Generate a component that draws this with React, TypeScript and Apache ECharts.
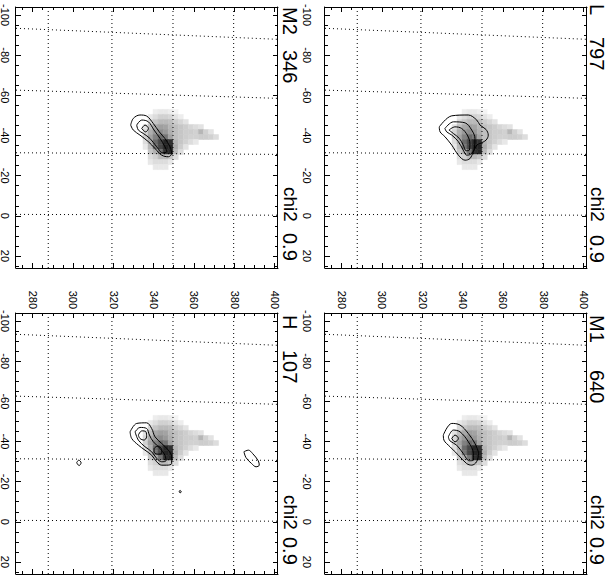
import React, { useEffect, useRef } from 'react';
import * as echarts from 'echarts';

// ---------- data ----------
const panelNames = ['L', 'M1', 'M2', 'H'];
const panelCounts = ['797', '640', '346', '107'];
const chiLabel = 'chi2';
const chiValues = ['0.9', '0.9', '0.9', '0.9'];

const xMin = -104;
const xMax = 26;
const yMin = 271.5;
const yMax = 401.5;
const xTickValues = [-100, -80, -60, -40, -20, 0, 20];
const yTickValues = [280, 300, 320, 340, 360, 380, 400];
const xMinorValues = [-100, -95, -90, -85, -80, -75, -70, -65, -60, -55, -50, -45, -40, -35, -30, -25, -20, -15, -10, -5, 0, 5, 10, 15, 20, 25];
const yMinorValues = [275, 280, 285, 290, 295, 300, 305, 310, 315, 320, 325, 330, 335, 340, 345, 350, 355, 360, 365, 370, 375, 380, 385, 390, 395, 400];

// overlay coordinate grid (dotted)
const overlayConstY = [287.5, 319.1, 349.4, 379.5];
const overlayTiltX = [
  [-93.4, -87.9],
  [-62.6, -58.5],
  [-31.4, -30.6],
  [-0.7, -0.3],
];

// grey-scale image (rows along x, columns along y)
const heatXEdges = [-53, -50.5, -48, -45.5, -43, -40.5, -38, -35.5, -33, -30.5, -28, -25.5, -23];
const heatYEdges = [334.5, 337, 339.5, 342, 344.5, 347, 349.5, 352, 354.5, 357, 359.5, 362, 364.5, 367, 369.5, 372];
const heatRows = [
  [0, 0, 0.08, 0.1, 0.1, 0.08, 0.05, 0, 0, 0, 0, 0, 0, 0, 0],
  [0, 0.1, 0.15, 0.2, 0.2, 0.18, 0.12, 0.08, 0, 0, 0, 0, 0, 0, 0],
  [0, 0.18, 0.25, 0.3, 0.3, 0.28, 0.22, 0.18, 0.12, 0, 0, 0, 0, 0, 0],
  [0.12, 0.28, 0.38, 0.42, 0.4, 0.32, 0.28, 0.25, 0.22, 0.18, 0.15, 0.12, 0, 0, 0],
  [0.18, 0.35, 0.45, 0.5, 0.45, 0.35, 0.28, 0.25, 0.22, 0.22, 0.2, 0.32, 0.2, 0.12, 0],
  [0.2, 0.4, 0.55, 0.65, 0.6, 0.4, 0.28, 0.25, 0.22, 0.2, 0.2, 0.22, 0.22, 0.2, 0.15],
  [0.15, 0.35, 0.65, 0.8, 0.95, 0.9, 0.32, 0.25, 0.2, 0.15, 0.1, 0, 0, 0, 0],
  [0.1, 0.3, 0.6, 0.8, 0.95, 0.95, 0.35, 0.22, 0.12, 0, 0, 0, 0, 0, 0],
  [0, 0.25, 0.35, 0.6, 0.9, 0.95, 0.3, 0.15, 0, 0, 0, 0, 0, 0, 0],
  [0, 0.15, 0.2, 0.3, 0.3, 0.25, 0.15, 0, 0, 0, 0, 0, 0, 0, 0],
  [0, 0.1, 0.15, 0.15, 0.15, 0.1, 0, 0, 0, 0, 0, 0, 0, 0, 0],
  [0, 0, 0.1, 0.1, 0.1, 0, 0, 0, 0, 0, 0, 0, 0, 0, 0],
];

// contours, [x, y]
const contoursL = [
  [[-44.3, 328.2], [-49.8, 334.4], [-50.2, 342.6], [-47.7, 346.8], [-45.2, 348.4], [-43.0, 351.4], [-40.2, 352.5], [-37.7, 351.4], [-36.0, 348.4], [-35.2, 346.8], [-31.9, 345.1], [-28.5, 343.4], [-27.7, 341.0], [-30.2, 337.7], [-35.2, 334.4], [-39.4, 331.0], [-41.8, 328.6]],
  [[-43.5, 331.0], [-46.8, 335.2], [-46.3, 341.0], [-42.7, 344.3], [-38.5, 345.9], [-33.5, 345.6], [-30.7, 343.8], [-30.2, 341.8], [-32.7, 340.1], [-36.9, 337.7], [-40.2, 334.4], [-41.8, 331.9]],
  [[-42.7, 333.0], [-44.3, 336.0], [-43.5, 339.3], [-40.2, 342.1], [-36.0, 343.4], [-32.7, 343.1], [-32.4, 341.5], [-35.2, 340.1], [-38.5, 338.2], [-41.0, 335.2]],
];
const contoursM1 = [
  [[-43.2, 330.2], [-49.0, 334.4], [-48.2, 338.5], [-44.0, 342.6], [-39.0, 345.9], [-34.0, 347.6], [-29.9, 346.7], [-28.2, 344.3], [-29.0, 341.8], [-33.2, 337.7], [-37.4, 333.5], [-40.7, 330.5]],
  [[-42.3, 332.7], [-45.7, 335.2], [-44.8, 338.5], [-39.9, 342.6], [-34.0, 345.1], [-30.7, 345.1], [-30.4, 343.1], [-34.0, 340.1], [-38.2, 336.8], [-40.3, 333.5]],
  [[-41.5, 334.4], [-43.2, 336.0], [-41.5, 337.7], [-39.8, 336.0]],
];
const contoursM2 = [
  [[-45.2, 328.4], [-48.5, 329.7], [-50.2, 333.0], [-49.7, 336.3], [-46.0, 339.6], [-41.8, 342.6], [-38.5, 345.4], [-34.4, 347.9], [-31.0, 348.7], [-29.4, 347.1], [-30.2, 343.8], [-33.5, 340.5], [-36.9, 337.2], [-40.2, 333.0], [-42.7, 329.7]],
  [[-45.2, 331.4], [-47.7, 333.9], [-46.8, 337.2], [-42.7, 340.0], [-38.5, 343.0], [-34.4, 345.4], [-31.9, 346.3], [-31.4, 344.3], [-34.4, 341.3], [-38.5, 338.0], [-41.0, 334.7], [-42.7, 332.2]],
  [[-43.5, 333.9], [-45.2, 335.5], [-43.5, 337.2], [-41.8, 335.8]],
];
const contoursH = [
  [[-44.8, 328.1], [-49.0, 331.4], [-49.3, 336.3], [-46.5, 338.8], [-42.3, 340.5], [-39.0, 343.8], [-35.7, 347.1], [-32.4, 348.7], [-29.0, 348.7], [-28.2, 346.3], [-28.2, 343.8], [-29.9, 341.3], [-33.2, 338.8], [-35.7, 335.5], [-38.2, 332.2], [-41.5, 328.9]],
  [[-44.8, 330.6], [-47.0, 333.0], [-46.5, 336.3], [-43.2, 337.7], [-39.9, 339.6], [-36.5, 343.0], [-33.2, 345.4], [-30.4, 345.9], [-29.9, 343.8], [-31.6, 341.3], [-34.9, 338.8], [-37.4, 335.5], [-40.7, 332.2]],
  [[-43.2, 332.2], [-45.3, 333.9], [-44.8, 336.0], [-42.3, 336.3], [-40.7, 335.0], [-41.5, 333.0]],
  [[-36.5, 340.0], [-37.7, 341.6], [-36.0, 343.8], [-34.0, 343.8], [-33.7, 341.6], [-34.9, 340.0]],
  [[-34.9, 384.6], [-35.7, 386.8], [-34.0, 388.9], [-30.4, 391.7], [-28.2, 392.2], [-27.4, 390.6], [-29.0, 388.4], [-32.0, 385.6]],
  [[-29.4, 301.6], [-30.7, 302.6], [-29.4, 303.8], [-28.0, 302.8]],
  [[-15.25, 352.4], [-15.6, 353.0], [-14.9, 353.5], [-14.4, 352.9]],
];
const panelContours = [contoursL, contoursM1, contoursM2, contoursH];

// ---------- layout (inner landscape frame, rotated 90deg on page) ----------
const FONT = "'Liberation Sans', Arial, Helvetica, sans-serif";
const gridLayout = [
  { left: 7, top: 26, xLabelMargin: 13, yLabels: false },
  { left: 313, top: 26, xLabelMargin: 13, yLabels: true },
  { left: 7, top: 335, xLabelMargin: 6, yLabels: false },
  { left: 313, top: 335, xLabelMargin: 6, yLabels: true },
];
const GRID_W = 261;
const GRID_H = 262;
const titleLayout = [
  { nameX: 4, countX: 37, chiX: 187, valX: 235, y: 16 },
  { nameX: 315, countX: 370, chiX: 495, valX: 537, y: 16 },
  { nameX: 7, countX: 50, chiX: 187, valX: 233, y: 323 },
  { nameX: 315, countX: 350, chiX: 495, valX: 537, y: 323 },
];

function buildOption() {
  const grid: any[] = [];
  const xAxis: any[] = [];
  const yAxis: any[] = [];
  const series: any[] = [];
  const graphic: any[] = [];

  const heatData: number[][] = [];
  for (let i = 0; i < heatRows.length; i++) {
    for (let j = 0; j < heatRows[i].length; j++) {
      const v = heatRows[i][j];
      if (v > 0) heatData.push([heatXEdges[i], heatYEdges[j], heatXEdges[i + 1], heatYEdges[j + 1], v]);
    }
  }

  const baseAxis = (extra: any) => ({
    type: 'value',
    splitLine: { show: false },
    axisLine: { show: false, onZero: false, lineStyle: { color: '#000', width: 1 } },
    axisLabel: { show: false },
    axisTick: { show: false },
    ...extra,
  });

  gridLayout.forEach((g, gi) => {
    grid.push({
      left: g.left, top: g.top, width: GRID_W, height: GRID_H,
      containLabel: false, outerBoundsMode: 'none',
    });
    const xa = (position: string, major: boolean, labels: boolean) =>
      baseAxis({
        gridIndex: gi,
        position,
        min: xMin,
        max: xMax,
        axisLine: { show: major, onZero: false, lineStyle: { color: '#000', width: 1 } },
        axisTick: {
          show: true,
          inside: true,
          length: major ? 5 : 3,
          customValues: major ? xTickValues : xMinorValues,
          lineStyle: { color: '#000', width: 1 },
        },
        axisLabel: labels
          ? { show: true, customValues: xTickValues, margin: g.xLabelMargin, fontSize: 11, fontFamily: FONT, color: '#000' }
          : { show: false },
      });
    const ya = (position: string, major: boolean, labels: boolean) =>
      baseAxis({
        gridIndex: gi,
        position,
        min: yMin,
        max: yMax,
        axisLine: { show: major, onZero: false, lineStyle: { color: '#000', width: 1 } },
        axisTick: {
          show: true,
          inside: true,
          length: major ? 5 : 3,
          customValues: major ? yTickValues : yMinorValues,
          lineStyle: { color: '#000', width: 1 },
        },
        axisLabel: labels
          ? { show: true, customValues: yTickValues, margin: 4, fontSize: 11, fontFamily: FONT, color: '#000' }
          : { show: false },
      });
    xAxis.push(xa('bottom', true, true), xa('bottom', false, false), xa('top', true, false), xa('top', false, false));
    yAxis.push(ya('left', true, g.yLabels), ya('left', false, false), ya('right', true, false), ya('right', false, false));

    const xi = gi * 4;
    const yi = gi * 4;

    series.push({
      type: 'custom',
      xAxisIndex: xi,
      yAxisIndex: yi,
      data: heatData,
      encode: { x: [0, 2], y: [1, 3] },
      silent: true,
      z: 1,
      renderItem: (params: any, api: any) => {
        const p0 = api.coord([api.value(0), api.value(1)]);
        const p1 = api.coord([api.value(2), api.value(3)]);
        const v = api.value(4);
        const c = Math.round(255 * (1 - 0.9 * v));
        const col = `rgb(${c},${c},${c})`;
        return {
          type: 'rect',
          shape: {
            x: Math.min(p0[0], p1[0]),
            y: Math.min(p0[1], p1[1]),
            width: Math.abs(p1[0] - p0[0]),
            height: Math.abs(p1[1] - p0[1]),
          },
          style: { fill: col, stroke: col, lineWidth: 0.5 },
        };
      },
    });

    const dotted = { color: '#000', width: 1, type: [1, 3] };
    overlayConstY.forEach((yc) => {
      series.push({
        type: 'line', xAxisIndex: xi, yAxisIndex: yi, silent: true, z: 2,
        symbol: 'none', lineStyle: dotted,
        data: [[xMin, yc], [xMax, yc]],
      });
    });
    overlayTiltX.forEach((t) => {
      series.push({
        type: 'line', xAxisIndex: xi, yAxisIndex: yi, silent: true, z: 2,
        symbol: 'none', lineStyle: dotted,
        data: [[t[0], yMin], [t[1], yMax]],
      });
    });

    panelContours[gi].forEach((c) => {
      series.push({
        type: 'line', xAxisIndex: xi, yAxisIndex: yi, silent: true, z: 3,
        symbol: 'none', smooth: 0.35,
        lineStyle: { color: '#000', width: 1 },
        data: [...c, c[0]],
      });
    });

    const t = titleLayout[gi];
    const txt = (x: number, text: string, size: number) => ({
      type: 'text',
      x,
      y: t.y,
      silent: true,
      style: { text, fill: '#000', fontSize: size, fontFamily: FONT, align: 'left', verticalAlign: 'middle' },
    });
    graphic.push(txt(t.nameX, panelNames[gi], 20));
    graphic.push(txt(t.countX, panelCounts[gi], 20));
    graphic.push(txt(t.chiX, chiLabel, 19));
    graphic.push(txt(t.valX, chiValues[gi], 20));
  });

  return {
    animation: false,
    backgroundColor: '#fff',
    grid,
    xAxis,
    yAxis,
    series,
    graphic,
  };
}

export default function App() {
  const ref = useRef<HTMLDivElement>(null);
  useEffect(() => {
    if (!ref.current) return;
    const chart = echarts.init(ref.current, null, { renderer: 'svg', width: 582, height: 613 });
    chart.setOption(buildOption() as any);
    return () => chart.dispose();
  }, []);
  return (
    <div style={{ position: 'fixed', left: 0, top: 0, width: 613, height: 582, overflow: 'hidden', background: '#fff' }}>
      <div
        style={{
          position: 'absolute', left: 0, top: 0, width: 582, height: 613,
          transformOrigin: '0 0', transform: 'translate(613px, 0px) rotate(90deg)',
        }}
      >
        <div ref={ref} style={{ width: 582, height: 613 }} />
      </div>
    </div>
  );
}
